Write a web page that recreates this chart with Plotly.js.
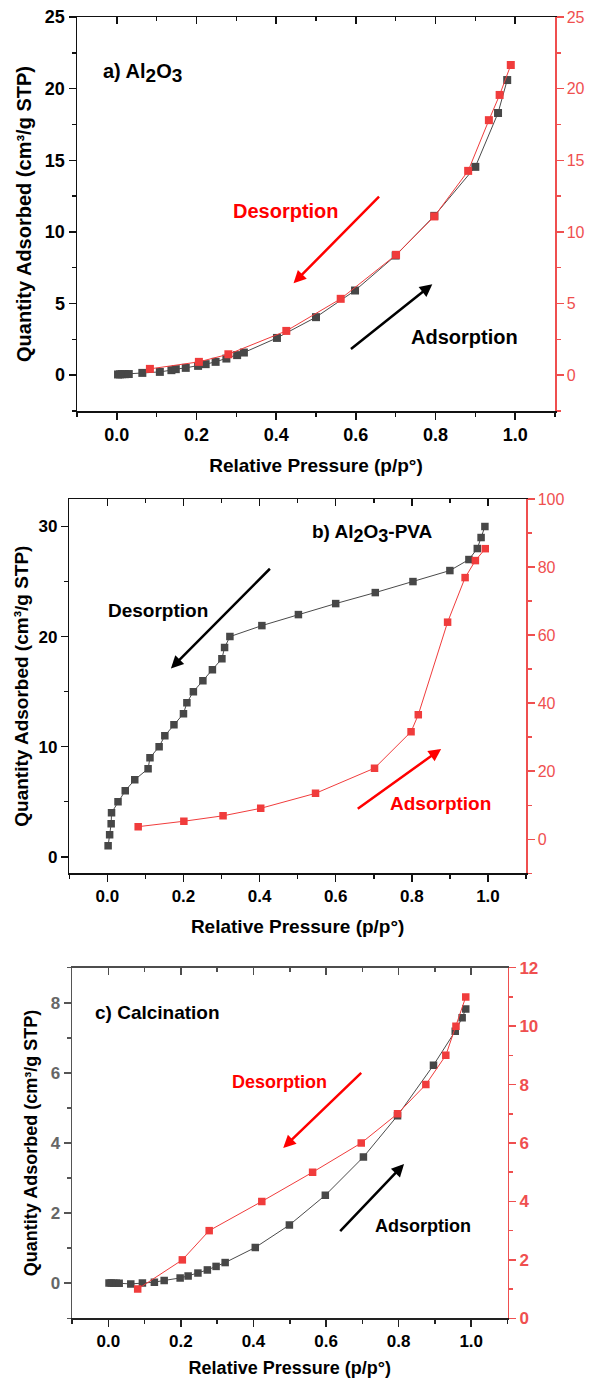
<!DOCTYPE html>
<html>
<head>
<meta charset="utf-8">
<script src="https://cdn.plot.ly/plotly-3.0.1.min.js"></script>
<style>html,body{margin:0;padding:0;background:#fff;}#chart{width:590px;height:1378px;}</style>
</head>
<body>
<div id="chart"></div>
<script>
// ---------- Data ----------
// Panel a) Al2O3
const aAdsX = [0.003, 0.008, 0.013, 0.02, 0.03, 0.064, 0.108, 0.137, 0.148, 0.173, 0.204, 0.223, 0.248, 0.275, 0.302, 0.319, 0.402, 0.5, 0.598, 0.7, 0.797, 0.9, 0.957, 0.98];
const aAdsY = [0.05, 0.06, 0.07, 0.07, 0.08, 0.16, 0.23, 0.35, 0.42, 0.51, 0.65, 0.77, 0.93, 1.16, 1.4, 1.58, 2.6, 4.05, 5.91, 8.35, 11.12, 14.54, 18.3, 20.6];
const aDesX = [0.989, 0.961, 0.934, 0.882, 0.797, 0.701, 0.562, 0.4255, 0.28, 0.206, 0.083];
const aDesY = [21.65, 19.56, 17.8, 14.26, 11.08, 8.4, 5.33, 3.09, 1.46, 0.93, 0.44];

// Panel b) Al2O3-PVA
const bDesX = [0.002, 0.006, 0.01, 0.011, 0.028, 0.047, 0.072, 0.107, 0.112, 0.136, 0.151, 0.175, 0.2, 0.209, 0.226, 0.251, 0.276, 0.301, 0.308, 0.322, 0.406, 0.502, 0.6, 0.704, 0.803, 0.9, 0.95, 0.972, 0.982, 0.992];
const bDesY = [1, 2, 3, 4, 5, 6, 7, 8, 9, 10, 11, 12, 13, 14, 15, 16, 17, 18, 19, 20, 21, 22, 23, 24, 25, 26, 27, 28, 29, 30];
const bAdsX = [0.081, 0.201, 0.304, 0.403, 0.547, 0.702, 0.798, 0.817, 0.894, 0.94, 0.967, 0.993];
const bAdsY = [3.7, 5.3, 6.9, 9.1, 13.5, 20.9, 31.6, 36.6, 63.8, 76.9, 81.9, 85.4];

// Panel c) Calcination
const cAdsX = [0.002, 0.008, 0.015, 0.022, 0.03, 0.062, 0.094, 0.127, 0.154, 0.198, 0.22, 0.247, 0.273, 0.297, 0.322, 0.405, 0.499, 0.598, 0.703, 0.797, 0.896, 0.956, 0.975, 0.985];
const cAdsY = [0.01, 0.01, 0.0, 0.0, 0.0, -0.02, 0.01, 0.03, 0.08, 0.15, 0.21, 0.29, 0.38, 0.48, 0.59, 1.02, 1.66, 2.51, 3.6, 4.78, 6.22, 7.19, 7.57, 7.82];
const cDesX = [0.985, 0.958, 0.93, 0.875, 0.797, 0.697, 0.563, 0.423, 0.278, 0.204, 0.081];
const cDesY = [11, 10, 9, 8, 7, 6, 5, 4, 3, 2, 1];

const xTitle = 'Relative Pressure (p/p°)';
const yTitle = 'Quantity Adsorbed (cm³/g STP)';

// ---------- Styles ----------
const FONT = 'Liberation Sans, Arial, sans-serif';
const BLK = '#474747';
const RED = '#f03c3c';
const REDAX = '#ef4f4f';

function blackTrace(x, y, xa, ya, size) {
  return {type: 'scatter', mode: 'lines+markers', x: x, y: y, xaxis: xa, yaxis: ya,
    line: {color: '#4a4a4a', width: 1}, marker: {symbol: 'square', size: size, color: BLK},
    showlegend: false, hoverinfo: 'x+y'};
}
function redTrace(x, y, xa, ya, size) {
  return {type: 'scatter', mode: 'lines+markers', x: x, y: y, xaxis: xa, yaxis: ya,
    line: {color: RED, width: 1}, marker: {symbol: 'square', size: size, color: RED},
    showlegend: false, hoverinfo: 'x+y'};
}
function emptyTrace(xa, ya) {
  return {type: 'scatter', mode: 'markers', x: [], y: [], xaxis: xa, yaxis: ya, showlegend: false, hoverinfo: 'skip'};
}

const data = [
  blackTrace(aAdsX, aAdsY, 'x', 'y', 8),
  redTrace(aDesX, aDesY, 'x', 'y2', 8),
  emptyTrace('x2', 'y'),
  blackTrace(bDesX, bDesY, 'x3', 'y3', 7.5),
  redTrace(bAdsX, bAdsY, 'x3', 'y4', 7.5),
  emptyTrace('x4', 'y3'),
  blackTrace(cAdsX, cAdsY, 'x5', 'y5', 7.5),
  redTrace(cDesX, cDesY, 'x5', 'y6', 7.5),
  emptyTrace('x6', 'y5')
];

function xBottom(dom, anchor, titleSize, tickSize, standoff, lineColor) {
  return {domain: dom, anchor: anchor, range: [-0.1, 1.1], tick0: 0, dtick: 0.2, tickformat: '.1f',
    showgrid: false, zeroline: false, showline: true, linecolor: lineColor, linewidth: 1.5,
    ticks: 'outside', ticklen: 7, tickwidth: 1.5, tickcolor: lineColor,
    minor: {dtick: 0.1, ticks: 'outside', ticklen: 4, tickwidth: 1.5, tickcolor: lineColor},
    tickfont: {family: FONT, size: tickSize, color: '#000', weight: 'bold'},
    title: {text: xTitle, font: {family: FONT, size: titleSize, color: '#000', weight: 'bold'}, standoff: standoff}};
}
function xTop(dom, anchor, overlay, lineColor) {
  return {domain: dom, anchor: anchor, overlaying: overlay, side: 'top', range: [-0.1, 1.1], tick0: 0, dtick: 0.2,
    showgrid: false, zeroline: false, showline: true, linecolor: lineColor, linewidth: 1.5,
    ticks: 'inside', ticklen: 7, tickwidth: 1.5, tickcolor: lineColor, showticklabels: false,
    minor: {dtick: 0.1, ticks: 'inside', ticklen: 4, tickwidth: 1.5, tickcolor: lineColor}};
}
function yLeft(dom, anchor, range, dtick, minorDtick, tickSize, tickColor, lineColor, titleSize, standoff) {
  return {domain: dom, anchor: anchor, range: range, tick0: 0, dtick: dtick,
    showgrid: false, zeroline: false, showline: true, linecolor: lineColor, linewidth: 1.5,
    ticks: 'outside', ticklen: 7, tickwidth: 1.5, tickcolor: lineColor,
    minor: {dtick: minorDtick, ticks: 'outside', ticklen: 4, tickwidth: 1.5, tickcolor: lineColor},
    tickfont: {family: FONT, size: tickSize, color: tickColor, weight: 'bold'},
    title: {text: yTitle, font: {family: FONT, size: titleSize, color: '#000', weight: 'bold'}, standoff: standoff}};
}
function yRight(dom, anchor, overlay, range, dtick, minorDtick, tickSize, bold) {
  return {domain: dom, anchor: anchor, overlaying: overlay, side: 'right', range: range, tick0: 0, dtick: dtick,
    showgrid: false, zeroline: false, showline: true, linecolor: REDAX, linewidth: 1.5,
    ticks: 'outside', ticklen: 7, tickwidth: 1.5, tickcolor: REDAX,
    minor: {dtick: minorDtick, ticks: 'outside', ticklen: 4, tickwidth: 1.5, tickcolor: REDAX},
    tickfont: {family: FONT, size: tickSize, color: REDAX, weight: bold ? 'bold' : 'normal'}};
}

// panel domains (paper fractions)
const W = 590, H = 1378;
const aX = [77 / W, 555 / W], aY = [1 - 411 / H, 1 - 17 / H];
const bX = [69.3 / W, 526 / W], bY = [1 - 873.3 / H, 1 - 499 / H];
const cX = [72 / W, 507.5 / W], cY = [1 - 1318.3 / H, 1 - 967.7 / H];

function chem(label, size) {
  // chemical formula label with near full-size subscripts, as in the reference
  return label.replace(/(\d)/g, '<sub><span style="font-size:' + size + 'px">$1</span></sub>');
}

const layout = {
  width: W, height: H, margin: {l: 0, r: 0, t: 0, b: 0},
  paper_bgcolor: '#fff', plot_bgcolor: '#fff',
  font: {family: FONT},
  xaxis: xBottom(aX, 'y', 19, 18, 14, '#111'),
  xaxis2: xTop(aX, 'y', 'x', '#111'),
  yaxis: yLeft(aY, 'x', [-2.5, 25], 5, 2.5, 18, '#000', '#111', 20, 8),
  yaxis2: yRight(aY, 'x', 'y', [-2.5, 25], 5, 2.5, 16, false),

  xaxis3: xBottom(bX, 'y3', 19, 17, 14, '#111'),
  xaxis4: xTop(bX, 'y3', 'x3', '#111'),
  yaxis3: yLeft(bY, 'x3', [-1.5, 32.5], 10, 5, 17, '#000', '#111', 19, 5),
  yaxis4: yRight(bY, 'x3', 'y3', [-10, 100], 20, 10, 16, false),

  xaxis5: xBottom(cX, 'y5', 18, 17, 12, '#222'),
  xaxis6: xTop(cX, 'y5', 'x5', '#4d4d4d'),
  yaxis5: yLeft(cY, 'x5', [-1, 9], 2, 1, 17, '#666', '#555', 18, 8),
  yaxis6: yRight(cY, 'x5', 'y5', [0, 12], 2, 1, 17, true),

  annotations: [
    // panel a
    {xref: 'x', yref: 'y', x: -0.04, y: 21.1, xanchor: 'left', yanchor: 'middle', showarrow: false,
      text: 'a) ' + chem('Al2O3', 19), font: {family: FONT, size: 20, color: '#000', weight: 'bold'}},
    {xref: 'x', yref: 'y', x: 0.425, y: 11.44, showarrow: false, text: 'Desorption',
      font: {family: FONT, size: 20, color: '#ff0000', weight: 'bold'}},
    {xref: 'x', yref: 'y', x: 0.872, y: 2.65, showarrow: false, text: 'Adsorption',
      font: {family: FONT, size: 20, color: '#000', weight: 'bold'}},
    {xref: 'x', yref: 'y', axref: 'x', ayref: 'y', x: 0.4436, y: 6.42, ax: 0.662, ay: 12.56, text: '',
      showarrow: true, arrowhead: 2, arrowsize: 1, arrowwidth: 2.5, arrowcolor: '#ff0000'},
    {xref: 'x', yref: 'y', axref: 'x', ayref: 'y', x: 0.792, y: 6.35, ax: 0.584, ay: 1.74, text: '',
      showarrow: true, arrowhead: 2, arrowsize: 1, arrowwidth: 2.5, arrowcolor: '#000'},
    // panel b
    {xref: 'x3', yref: 'y3', x: 0.533, y: 29.4, xanchor: 'left', yanchor: 'middle', showarrow: false,
      text: 'b) ' + chem('Al2O3', 18) + '-PVA', font: {family: FONT, size: 19, color: '#000', weight: 'bold'}},
    {xref: 'x3', yref: 'y3', x: 0.133, y: 22.4, showarrow: false, text: 'Desorption',
      font: {family: FONT, size: 19, color: '#000', weight: 'bold'}},
    {xref: 'x3', yref: 'y3', x: 0.876, y: 4.8, showarrow: false, text: 'Adsorption',
      font: {family: FONT, size: 19, color: '#ff0000', weight: 'bold'}},
    {xref: 'x3', yref: 'y3', axref: 'x3', ayref: 'y3', x: 0.167, y: 17.1, ax: 0.431, ay: 26.3, text: '',
      showarrow: true, arrowhead: 2, arrowsize: 1, arrowwidth: 2.5, arrowcolor: '#000'},
    {xref: 'x3', yref: 'y3', axref: 'x3', ayref: 'y3', x: 0.877, y: 9.8, ax: 0.654, ay: 4.27, text: '',
      showarrow: true, arrowhead: 2, arrowsize: 1, arrowwidth: 2.5, arrowcolor: '#ff0000'},
    // panel c
    {xref: 'x5', yref: 'y5', x: -0.043, y: 7.71, xanchor: 'left', yanchor: 'middle', showarrow: false,
      text: 'c) Calcination', font: {family: FONT, size: 19, color: '#000', weight: 'bold'}},
    {xref: 'x5', yref: 'y5', x: 0.471, y: 5.75, showarrow: false, text: 'Desorption',
      font: {family: FONT, size: 18, color: '#ff0000', weight: 'bold'}},
    {xref: 'x5', yref: 'y5', x: 0.868, y: 1.635, showarrow: false, text: 'Adsorption',
      font: {family: FONT, size: 18, color: '#000', weight: 'bold'}},
    {xref: 'x5', yref: 'y5', axref: 'x5', ayref: 'y5', x: 0.482, y: 3.86, ax: 0.701, ay: 6.04, text: '',
      showarrow: true, arrowhead: 2, arrowsize: 1, arrowwidth: 2.5, arrowcolor: '#ff0000'},
    {xref: 'x5', yref: 'y5', axref: 'x5', ayref: 'y5', x: 0.815, y: 3.4, ax: 0.635, ay: 1.445, text: '',
      showarrow: true, arrowhead: 2, arrowsize: 1, arrowwidth: 2.5, arrowcolor: '#000'}
  ]
};

Plotly.newPlot('chart', data, layout, {displayModeBar: false, staticPlot: true});
</script>
</body>
</html>
